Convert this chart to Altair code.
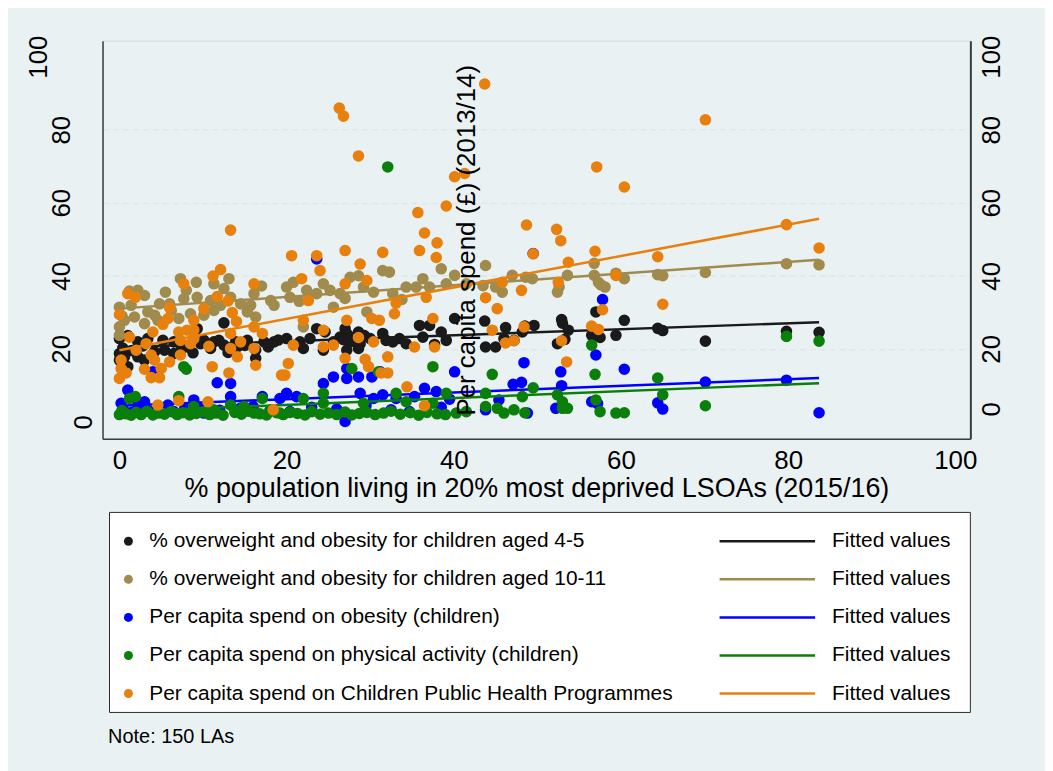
import altair as alt
import pandas as pd

SERIES = [
    "% overweight and obesity for children aged 4-5",
    "% overweight and obesity for children aged 10-11",
    "Per capita spend on obesity (children)",
    "Per capita spend on physical activity (children)",
    "Per capita spend on Children Public Health Programmes",
]
FIT_NAMES = ["fit1", "fit2", "fit3", "fit4", "fit5"]
COLORS = ["#1a1a1a", "#a08b4d", "#0000ff", "#0a7f0a", "#e8800e"]

X_TICKS = [0, 20, 40, 60, 80, 100]
Y_TICKS = [0, 20, 40, 60, 80, 100]
X_TITLE = "% population living in 20% most deprived LSOAs (2015/16)"
Y2_TITLE = "Per capita spend (£) (2013/14)"
NOTE = "Note: 150 LAs"

# (x, y) points
BLACK = [(12.5,27.1),(9.3,25.5),(0.0,22.8),(2.2,21.9),(3.4,22.8),(5.2,22.3),(6.5,21.9),(10.1,22.3),(11.9,22.3),(15.3,22.3),
         (18.5,21.9),(0.0,18.7),(0.6,17.8),(2.2,17.8),(4.2,19.2),(5.4,19.6),(6.5,18.7),(8.1,20.5),(10.9,20.1),(12.5,21.0),
         (14.1,20.5),(16.3,19.6),(16.3,17.4),(0.0,16.9),(1.0,15.1),(3.0,16.9),(9.7,21.4),(11.3,21.9),(13.9,21.9),(17.3,21.9),
         (0.4,20.2),(1.5,19.5),(2.8,20.8),(7.4,20.0),(8.8,18.9),(13.0,19.0),(15.0,20.9),(17.8,20.5),(19.0,22.4),(1.0,23.6),
         (23.6,25.5),(24.6,24.6),(27.0,25.5),(28.6,24.6),(31.5,24.2),(35.9,26.4),(37.1,26.4),(38.5,24.6),(40.1,28.3),(20.0,22.8),
         (21.6,21.9),(22.8,22.8),(26.4,23.2),(27.6,21.9),(30.0,22.8),(31.9,22.3),(33.5,22.8),(36.3,23.2),(39.1,22.3),(22.0,20.1),
         (24.4,19.6),(27.2,19.6),(28.6,20.1),(25.6,21.9),(28.8,21.4),(32.7,21.9),(27.3,23.9),(26.8,22.5),(29.3,23.6),(34.3,21.4),
         (37.7,21.2),(43.7,27.6),(46.2,25.8),(48.5,26.2),(49.6,26.4),(52.9,28.0),(53.7,25.1),(57.0,30.1),(56.9,23.7),(57.5,23.1),
         (59.4,23.7),(60.4,27.8),(43.8,20.5),(45.0,20.5),(47.2,22.3),(52.4,21.4),(56.5,23.7),(48.2,24.6),(46.0,22.8),(53.0,27.0),
         (53.3,22.6),(57.0,24.6),(64.4,25.6),(65.0,25.0),(70.1,22.1),(79.8,24.8),(83.7,24.5)]

TAN = [(7.3,39.2),(9.2,38.2),(11.3,37.8),(13.1,39.2),(2.2,36.0),(3.0,34.6),(0.0,31.4),(1.4,31.9),(4.8,32.3),(6.0,32.3),
       (7.7,33.7),(9.3,34.1),(10.9,33.2),(13.3,34.1),(16.1,35.1),(18.1,33.2),(3.4,30.1),(4.2,29.2),(0.0,26.0),(0.6,27.8),
       (7.1,28.3),(8.5,29.6),(11.3,30.5),(15.3,30.1),(16.3,28.7),(3.0,26.9),(4.6,27.8),(10.1,29.2),(0.0,23.7),(1.8,28.7),
       (6.2,30.5),(12.1,31.9),(14.5,32.3),(15.7,31.9),(18.5,31.9),(0.3,29.0),(1.2,35.8),(5.5,35.5),(8.0,36.0),(12.5,36.5),
       (17.0,37.2),(20.8,38.2),(24.4,37.8),(20.0,36.9),(27.6,39.6),(28.6,40.0),(31.5,41.4),(32.3,41.0),(36.3,39.2),(38.5,41.9),
       (40.1,40.1),(39.1,37.8),(22.4,36.0),(23.6,35.1),(25.2,36.0),(26.4,35.1),(29.2,36.9),(30.4,35.5),(32.7,35.1),(34.3,36.9),
       (35.5,36.9),(37.1,36.9),(20.4,34.1),(25.6,31.4),(29.6,30.1),(22.0,26.0),(33.8,33.5),(27.0,33.8),(21.5,33.0),(43.8,42.8),
       (47.0,40.1),(48.6,39.6),(49.4,39.2),(53.6,40.1),(56.8,43.4),(56.8,40.1),(57.3,38.2),(58.1,36.9),(60.4,39.2),(41.5,37.8),
       (43.5,37.3),(45.0,36.9),(45.8,35.5),(52.6,36.9),(52.4,35.5),(59.4,40.7),(64.4,40.3),(65.0,40.0),(70.1,40.9),(79.8,43.3),
       (83.7,43.0),(57.6,37.5)]

BLUE = [(1.0,8.7),(4.0,13.7),(11.7,10.7),(13.3,10.5),(13.3,6.9),(17.1,6.9),(0.2,5.1),(2.2,4.6),(3.0,5.5),(5.8,4.6),
        (8.9,6.0),(10.1,2.4),(19.2,6.4),(0.5,3.2),(1.5,2.6),(3.5,3.0),(6.5,2.8),(7.8,3.6),(9.5,4.0),(12.0,3.2),
        (14.5,3.8),(16.0,4.2),(18.0,3.0),(23.6,44.6),(20.0,7.8),(21.2,6.9),(24.4,10.5),(25.6,12.3),(27.2,11.9),(27.2,14.6),
        (28.6,12.3),(30.2,12.3),(31.2,13.7),(28.8,7.8),(30.4,6.4),(31.5,7.4),(33.1,6.4),(35.3,6.9),(36.5,9.2),(37.9,8.3),
        (40.1,13.7),(27.0,0.1),(20.4,2.8),(34.7,2.8),(23.0,4.0),(26.0,3.5),(29.5,4.5),(32.5,3.3),(38.5,4.0),(39.5,6.2),
        (49.5,46.1),(57.8,33.5),(57.0,18.3),(48.4,16.2),(60.4,14.4),(52.8,13.7),(47.1,10.3),(48.1,10.8),(52.9,9.9),(45.4,6.0),
        (52.2,3.7),(48.8,2.4),(43.8,3.3),(56.5,5.5),(64.4,5.2),(65.0,3.5),(70.1,10.9),(79.8,11.4),(83.7,2.5),(57.2,5.0)]

GREEN = [(32.1,69.8),(7.7,15.1),(8.0,14.4),(1.2,6.4),(1.9,6.9),(7.1,6.9),(17.1,6.4),(27.8,14.6),(37.5,15.1),(31.0,13.7),
         (22.0,6.4),(24.4,7.8),(33.1,7.8),(34.3,5.5),(39.1,7.8),(24.4,5.1),(29.2,5.1),(37.5,5.1),(44.6,13.0),(56.9,13.0),
         (56.5,21.0),(49.5,9.3),(43.8,7.8),(48.2,6.9),(52.4,7.4),(53.0,5.5),(57.0,6.0),(41.5,2.8),(43.8,4.2),(45.2,3.7),
         (46.0,2.4),(47.2,3.3),(48.5,2.5),(53.0,3.7),(53.6,3.7),(57.5,2.8),(59.4,2.4),(60.4,2.5),(64.4,12.0),(65.0,7.4),
         (70.1,4.4),(79.8,23.4),(83.7,22.1),(8.9,4.2),(11.3,3.3),(13.3,4.6),(14.9,4.2),(16.1,2.4),(18.1,3.3),(19.2,2.4),
         (0.0,2.0),(0.3,3.1),(0.8,2.2),(1.4,1.8),(2.0,2.6),(2.6,2.0),(3.3,2.9),(4.0,1.9),(4.7,2.4),(5.4,2.1),
         (6.2,2.8),(6.9,2.0),(7.6,2.5),(8.4,1.9),(9.2,2.3),(10.0,2.7),(10.8,2.0),(11.6,2.4),(12.4,1.8),(13.8,2.6),
         (14.6,2.1),(15.4,2.9),(16.8,2.2),(17.6,1.9),(18.8,2.5),(19.6,2.0),(20.4,2.6),(21.3,2.3),(22.2,1.9),(23.0,2.8),
         (24.0,2.1),(25.0,2.4),(26.0,2.0),(27.0,2.7),(27.8,1.9),(28.7,2.3),(29.6,2.6),(30.6,2.0),(31.6,2.4),(32.5,2.9),
         (33.6,2.1),(34.8,2.5),(35.8,1.8),(36.8,2.6),(38.0,2.2),(39.0,2.0),(40.3,2.4)]

ORANGE = [(26.3,85.9),(26.8,83.7),(28.6,72.8),(43.7,92.5),(40.1,67.1),(41.3,68.0),(39.1,59.1),(35.7,57.3),(36.5,51.7),(38.0,49.0),
          (13.3,52.5),(48.7,53.9),(52.3,52.7),(52.8,49.6),(57.1,69.8),(60.4,64.3),(70.1,82.7),(79.8,54.0),(83.7,47.6),(56.9,46.7),
          (12.1,41.7),(11.2,39.9),(7.7,37.8),(16.1,37.8),(1.0,35.1),(1.9,34.1),(11.7,34.3),(13.0,33.1),(10.1,31.0),(0.0,29.4),
          (6.0,31.3),(13.5,29.9),(14.0,27.5),(8.9,27.8),(5.8,28.3),(5.2,26.7),(4.0,24.6),(7.1,24.6),(8.1,25.1),(8.9,25.1),
          (16.1,26.0),(17.1,24.2),(13.3,24.2),(7.3,22.3),(8.9,22.8),(1.2,23.2),(3.2,21.4),(8.5,21.4),(14.5,21.9),(13.3,20.1),
          (16.1,20.1),(10.7,20.7),(2.0,19.6),(7.3,18.3),(3.8,18.3),(14.1,17.8),(4.2,16.9),(6.0,16.4),(0.2,16.9),(16.3,15.5),
          (11.1,15.1),(0.2,14.6),(3.0,14.4),(5.0,14.6),(0.8,13.4),(0.0,11.9),(3.8,12.1),(4.8,12.1),(13.1,13.4),(19.4,12.8),
          (4.6,4.6),(7.1,5.8),(10.6,5.5),(18.4,3.3),(20.6,45.5),(23.6,45.5),(27.0,46.9),(28.8,43.2),(31.5,46.4),(35.9,46.9),
          (37.9,45.0),(24.0,41.4),(21.8,39.2),(27.0,37.8),(29.6,38.7),(22.6,33.2),(33.1,32.5),(36.7,34.1),(32.9,29.6),(22.0,27.8),
          (27.2,27.8),(30.2,28.3),(31.1,27.8),(37.5,28.3),(24.4,25.1),(28.6,23.1),(30.4,21.9),(20.8,21.0),(24.4,20.5),(25.6,21.0),
          (35.3,20.5),(37.7,20.5),(32.1,17.8),(27.0,17.4),(29.4,17.1),(29.8,15.1),(20.2,16.0),(31.3,13.4),(32.1,13.4),(34.4,9.6),
          (36.5,4.4),(19.8,12.8),(49.5,46.0),(53.7,43.7),(45.8,38.2),(48.1,36.0),(52.5,38.2),(59.4,40.1),(43.8,34.0),(45.2,31.0),
          (57.8,30.7),(44.6,25.1),(48.4,26.0),(56.5,26.2),(57.3,25.3),(46.2,21.6),(47.2,22.2),(52.9,22.2),(53.5,16.4),(64.4,45.2),
          (65.0,32.2)]

# fitted-line end points
FIT_X = [0.0, 83.7]
FIT_BLACK = [20.4, 27.3]
FIT_TAN = [31.0, 44.4]
FIT_BLUE = [4.4, 12.0]
FIT_GREEN = [2.8, 10.6]
FIT_ORANGE = [19.6, 55.6]

POINTS = [BLACK, TAN, BLUE, GREEN, ORANGE]
FITS = [FIT_BLACK, FIT_TAN, FIT_BLUE, FIT_GREEN, FIT_ORANGE]

FONT = "Liberation Sans"
AXIS_COL = "#3c3c3c"

x_enc = alt.X(
    "x:Q",
    scale=alt.Scale(domain=[-2.02, 101.8], nice=False, zero=False),
    axis=alt.Axis(
        values=X_TICKS, title=X_TITLE, labelFontSize=26, titleFontSize=27,
        labelFont=FONT, titleFont=FONT, labelColor="black", titleColor="black",
        titleFontWeight="normal", ticks=False, tickSize=0, grid=False,
        domainColor=AXIS_COL, domainWidth=1.5, labelPadding=9, titlePadding=2,
        labelFlush=False, labelOverlap=False,
    ),
)

y_scale = alt.Scale(domain=[-4.63, 104.36], nice=False, zero=False)

left_axis = alt.Axis(
    orient="left", values=Y_TICKS, title=None, labelAngle=270, labelAlign="center",
    labelBaseline="alphabetic", labelFontSize=26, labelFont=FONT, labelColor="black",
    labelPadding={"condition": [{"test": "datum.value === 100", "value": 56},
                                {"test": "datum.value === 0", "value": 11}],
                  "value": 33},
    ticks=False, tickSize=0, grid=True, gridDash=[6, 4], gridColor="#dce8ea", gridWidth=1.5,
    gridOpacity={"condition": {"test": "datum.value === 0 || datum.value === 100", "value": 0}, "value": 1},
    domainColor=AXIS_COL, domainWidth=1.5, labelFlush=False, labelOverlap=False,
)

right_axis = alt.Axis(
    orient="right", values=Y_TICKS, title=Y2_TITLE, labelAngle=270, labelAlign="center",
    labelBaseline="alphabetic", labelFontSize=26, labelFont=FONT, labelColor="black",
    labelPadding=29,
    labelOffset={"condition": {"test": "datum.value === 0", "value": -13}, "value": 0},
    ticks=False, tickSize=0, grid=False, domainColor=AXIS_COL, domainWidth=2,
    titleAngle=270, titleX=-498, titleY=200, titleAlign="center", titleBaseline="alphabetic",
    titleFontSize=26, titleFont=FONT, titleColor="black", titleFontWeight="normal",
    labelFlush=False, labelOverlap=False, zindex=1,
)

fill_legend = alt.Legend(
    orient="none", legendX=15.5, legendY=492.5, title=None, padding=0,
    labelFontSize=21, labelFont=FONT, labelColor="black", labelLimit=900,
    symbolType="circle", symbolSize=81, symbolStrokeWidth=0, symbolOpacity=1,
    rowPadding=16.25, labelOffset=10.5, clipHeight=21,
)
stroke_legend = alt.Legend(
    orient="none", legendX=618.5, legendY=492.5, title=None, padding=0,
    labelFontSize=21, labelFont=FONT, labelColor="black", labelLimit=900,
    symbolType="stroke", symbolSize=9216, symbolStrokeWidth=2.5,
    rowPadding=16.25, labelOffset=15.5, clipHeight=21,
    labelExpr="'Fitted values'",
)

fill_scale = alt.Scale(domain=SERIES, range=COLORS)
stroke_scale = alt.Scale(domain=FIT_NAMES, range=COLORS)

box = alt.Chart(pd.DataFrame({"k": [1]})).mark_rect(
    fill="white", stroke="#2a2a2a", strokeWidth=1
).encode(x=alt.value(7), x2=alt.value(872), y=alt.value(474), y2=alt.value(675))

note = alt.Chart(pd.DataFrame({"note": [NOTE]})).mark_text(
    align="left", baseline="middle", fontSize=20, font=FONT, color="black"
).encode(text="note:N", x=alt.value(5.6), y=alt.value(700))

layers = [box, note]
for i in range(5):
    pts = pd.DataFrame({"x": [p[0] for p in POINTS[i]], "y": [p[1] for p in POINTS[i]], "series": SERIES[i]})
    fit = pd.DataFrame({"x": FIT_X, "y": FITS[i], "fit": FIT_NAMES[i]})
    if i == 0:
        y_pts = alt.Y("y:Q", scale=y_scale, axis=left_axis)
    elif i == 4:
        y_pts = alt.Y("y:Q", scale=y_scale, axis=right_axis)
    else:
        y_pts = alt.Y("y:Q", scale=y_scale, axis=None)
    layers.append(
        alt.Chart(pts).mark_circle(size=135, opacity=1).encode(
            x=x_enc, y=y_pts,
            fill=alt.Fill("series:N", scale=fill_scale, legend=fill_legend),
        )
    )
    layers.append(
        alt.Chart(fit).mark_line(strokeWidth=2.5).encode(
            x=x_enc, y=alt.Y("y:Q", scale=y_scale, axis=None),
            stroke=alt.Stroke("fit:N", scale=stroke_scale, legend=stroke_legend),
        )
    )

chart = alt.layer(*layers).resolve_axis(y="independent").properties(
    width=872, height=400,
    padding={"left": 95, "top": 31, "right": 75, "bottom": 332},
    autosize=alt.AutoSizeParams(type="none"),
    background="#e9f1f2",
).configure_view(stroke=None, fill="white").configure(font=FONT)

chart.save("out.html", embed_options={"renderer": "svg", "actions": False})
